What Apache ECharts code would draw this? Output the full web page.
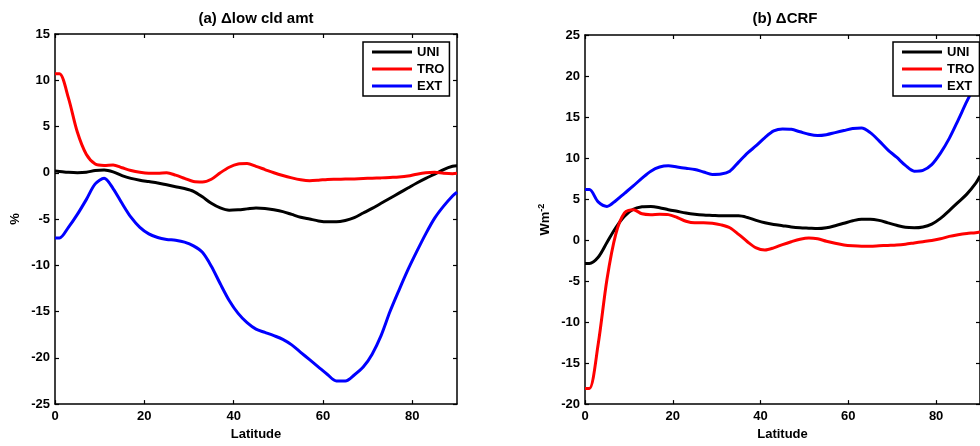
<!DOCTYPE html>
<html>
<head>
<meta charset="utf-8">
<script src="https://cdn.jsdelivr.net/npm/echarts@6/dist/echarts.min.js"></script>
<style>
  html, body { margin: 0; padding: 0; background: #fff; }
  #main { width: 980px; height: 446px; }
</style>
</head>
<body>
<div id="main"></div>
<script>
// latitude grid shared by both panels
let lat = [0, 1, 3, 5, 7, 9, 11, 13, 15, 17, 19, 21, 23, 25, 27, 29, 31, 33, 35, 37, 39, 41, 43, 45,
           47, 49, 51, 53, 55, 57, 59, 61, 63, 65, 67, 69, 71, 73, 75, 77, 79, 81, 83, 85, 87, 89, 90];

// (a) change in low cloud amount, %
let cldUNI = [0.2, 0.15, 0.05, 0.0, 0.05, 0.25, 0.3, 0.1, -0.3, -0.6, -0.8, -0.95, -1.1, -1.3, -1.5, -1.7,
              -2.0, -2.6, -3.3, -3.8, -4.05, -4.0, -3.9, -3.8, -3.85, -4.0, -4.2, -4.5, -4.8, -5.0, -5.2, -5.3,
              -5.3, -5.15, -4.85, -4.35, -3.85, -3.3, -2.75, -2.2, -1.65, -1.1, -0.6, -0.15, 0.35, 0.7, 0.75];
let cldTRO = [10.7, 10.7, 8.1, 4.4, 2.0, 0.95, 0.8, 0.85, 0.55, 0.25, 0.05, -0.05, -0.05, 0.0, -0.25, -0.6,
              -0.95, -1.0, -0.7, 0.0, 0.6, 0.95, 1.0, 0.7, 0.35, 0.0, -0.3, -0.55, -0.75, -0.85, -0.8, -0.72,
              -0.7, -0.68, -0.66, -0.62, -0.58, -0.55, -0.5, -0.45, -0.35, -0.15, 0.0, 0.05, -0.05, -0.1, -0.05];
let cldEXT = [-7.05, -7.05, -5.9, -4.5, -2.9, -1.2, -0.6, -1.7, -3.3, -4.8, -5.9, -6.6, -7.0, -7.2, -7.3, -7.5,
              -7.9, -8.6, -10.1, -12.0, -13.8, -15.2, -16.2, -16.9, -17.25, -17.6, -18.0, -18.6, -19.4, -20.2, -21.0, -21.8,
              -22.5, -22.5, -21.85, -21.0, -19.6, -17.6, -15.0, -12.7, -10.5, -8.5, -6.6, -4.9, -3.6, -2.5, -2.1];

// (b) change in cloud radiative forcing, W m-2
let crfUNI = [-2.85, -2.85, -2.1, -0.3, 1.5, 2.9, 3.75, 4.05, 4.1, 3.95, 3.7, 3.5, 3.3, 3.15, 3.05, 3.0,
              2.95, 2.95, 2.95, 2.75, 2.4, 2.1, 1.9, 1.75, 1.6, 1.5, 1.45, 1.4, 1.5, 1.75, 2.05, 2.35,
              2.55, 2.55, 2.4, 2.1, 1.8, 1.55, 1.5, 1.6, 1.95, 2.65, 3.6, 4.6, 5.6, 6.9, 7.8];
let crfTRO = [-18.1, -18.1, -12.7, -4.8, 0.7, 3.3, 3.7, 3.2, 3.1, 3.15, 3.1, 2.75, 2.3, 2.1, 2.1, 2.05,
              1.85, 1.5, 0.7, -0.2, -0.95, -1.2, -0.95, -0.55, -0.2, 0.1, 0.25, 0.15, -0.15, -0.4, -0.6, -0.7,
              -0.75, -0.75, -0.7, -0.65, -0.6, -0.5, -0.35, -0.2, -0.05, 0.15, 0.45, 0.65, 0.8, 0.9, 1.0];
let crfEXT = [6.15, 6.15, 4.65, 4.1, 4.8, 5.7, 6.6, 7.55, 8.4, 8.9, 9.05, 8.9, 8.75, 8.6, 8.3, 8.0,
              8.05, 8.4, 9.5, 10.6, 11.5, 12.5, 13.3, 13.55, 13.5, 13.2, 12.9, 12.75, 12.85, 13.1, 13.35, 13.6,
              13.65, 13.1, 12.1, 11.0, 10.1, 9.1, 8.4, 8.5, 9.2, 10.6, 12.4, 14.6, 16.9, 19.0, 20.0];

let names = ['UNI', 'TRO', 'EXT'];
let colors = ['#000000', '#ff0000', '#0000ff'];

const FONT = '"Liberation Sans", Arial, Helvetica, sans-serif';
const txt = { color: '#000', fontWeight: 'bold', fontSize: 13, fontFamily: FONT };
const boxLine = { show: true, onZero: false, lineStyle: { color: '#000', width: 1.5 } };
const inTick = { show: true, inside: true, length: 4, lineStyle: { color: '#000', width: 1.2 } };

function pairs(vals) {
    return lat.map((x, i) => [x, vals[i]]);
}

function xAxes(gi, name) {
    return [
        {
            type: 'value', gridIndex: gi, position: 'bottom', min: 0, max: 90, interval: 20,
            name: name, nameLocation: 'middle', nameGap: 17, nameTextStyle: txt,
            axisLine: boxLine, axisTick: inTick, splitLine: { show: false },
            axisLabel: Object.assign({ margin: 6, showMaxLabel: false }, txt)
        },
        {
            type: 'value', gridIndex: gi, position: 'top', min: 0, max: 90, interval: 20,
            axisLine: boxLine, axisTick: inTick, splitLine: { show: false },
            axisLabel: { show: false }
        }
    ];
}

function yAxes(gi, min, max, name, nameGap, rich) {
    return [
        {
            type: 'value', gridIndex: gi, position: 'left', min: min, max: max, interval: 5,
            name: name, nameLocation: 'middle', nameGap: nameGap, nameRotate: 90,
            nameTextStyle: Object.assign({ rich: rich }, txt),
            axisLine: boxLine, axisTick: inTick, splitLine: { show: false },
            axisLabel: Object.assign({ margin: 5 }, txt)
        },
        {
            type: 'value', gridIndex: gi, position: 'right', min: min, max: max, interval: 5,
            axisLine: boxLine, axisTick: inTick, splitLine: { show: false },
            axisLabel: { show: false }
        }
    ];
}

function lines(gi, sets) {
    return sets.map((vals, k) => ({
        name: names[k],
        type: 'line',
        xAxisIndex: gi * 2,
        yAxisIndex: gi * 2,
        data: pairs(vals),
        showSymbol: false,
        symbol: 'none',
        smooth: 0.3,
        color: colors[k],
        lineStyle: { color: colors[k], width: 3 }
    }));
}

function legendAt(left) {
    return {
        left: left, top: 42, orient: 'vertical',
        data: names, icon: 'rect', itemWidth: 40, itemHeight: 3, itemGap: 3,
        padding: [3, 5, 3, 9],
        backgroundColor: '#fff', borderColor: '#000', borderWidth: 1.5,
        textStyle: Object.assign({ lineHeight: 14 }, txt),
        selectedMode: false
    };
}

let chart = echarts.init(document.getElementById('main'));
let option = {
    animation: false,
    backgroundColor: '#fff',
    title: [
        { text: '(a) \u0394low cld amt', left: 256, top: 11, textAlign: 'center', padding: 0,
          textStyle: Object.assign({}, txt, { fontSize: 15 }) },
        { text: '(b) \u0394CRF', left: 785, top: 11, textAlign: 'center', padding: 0,
          textStyle: Object.assign({}, txt, { fontSize: 15 }) }
    ],
    grid: [
        { left: 55, top: 34, width: 402, height: 375 },
        { left: 585, top: 35, width: 401, height: 374 }
    ],
    legend: [legendAt(363), legendAt(893)],
    xAxis: xAxes(0, 'Latitude').concat(xAxes(1, 'Latitude')),
    yAxis: yAxes(0, -25, 15, '%', 33, {}).concat(
        yAxes(1, -20, 25, '{a|Wm}{b|-2}', 31, {
            a: Object.assign({}, txt),
            b: Object.assign({}, txt, { fontSize: 9, padding: [0, 0, 8, 0] })
        })
    ),
    series: lines(0, [cldUNI, cldTRO, cldEXT]).concat(lines(1, [crfUNI, crfTRO, crfEXT]))
};
chart.setOption(option);
</script>
</body>
</html>
